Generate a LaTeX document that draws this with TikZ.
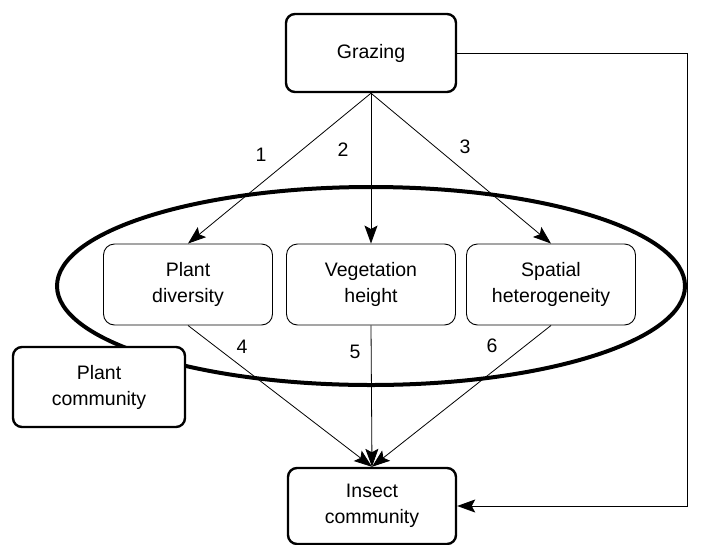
\documentclass[tikz,border=0pt]{standalone}
\usepackage{fontspec}
\setmainfont{Liberation Sans}
\usetikzlibrary{arrows.meta}

\begin{document}
\begin{tikzpicture}[
	x=1pt, y=-1pt,
	font=\fontsize{19.5}{26}\selectfont,
	outer/.style = {draw, line width=2.4pt, rounded corners=9pt, fill=white, align=center,
		minimum width=170pt, minimum height=78pt},
	inner/.style = {draw, line width=0.9pt, rounded corners=11pt, align=center,
		minimum width=169pt, minimum height=81pt},
	link/.style = {draw, line width=0.8pt, -{Stealth[length=18pt,width=13pt,inset=3.5pt]}},
	]
	\useasboundingbox (0,0) rectangle (701,544);
	% plant community ring
	\draw[line width=4pt] (371,286) ellipse [x radius=314, y radius=99];

	\node[outer] (grazing) at (371,53) {Grazing};
	\node[inner] (diversity) at (188,284.5) {Plant\\diversity};
	\node[inner] (height) at (371,284.5) {Vegetation\\height};
	\node[inner] (hetero) at (551,284.5) {Spatial\\heterogeneity};
	\node[outer, minimum width=172pt, minimum height=80pt] (plantcom) at (99,387) {Plant\\community};
	\node[outer, minimum width=168pt, minimum height=76pt] (insect) at (372,506) {Insect\\community};

	% grazing effects
	\draw[link] (grazing.south) -- (diversity.north);
	\draw[link] (grazing.south) -- (height.north);
	\draw[link] (grazing.south) -- (hetero.north);
	% effects on insects
	\draw[link] (diversity.south) -- (insect.north);
	\draw[link] (height.south) -- (insect.north);
	\draw[link] (hetero.south) -- (insect.north);
	\draw[link] (grazing.east) -- ++(230,0) |- (insect.east);

	\node (n1) at (261,155) {1};
	\node (n2) at (343,150) {2};
	\node (n3) at (465,147) {3};
	\node (n4) at (242,347) {4};
	\node (n5) at (355,352) {5};
	\node (n6) at (492,346) {6};
\end{tikzpicture}
\end{document}
